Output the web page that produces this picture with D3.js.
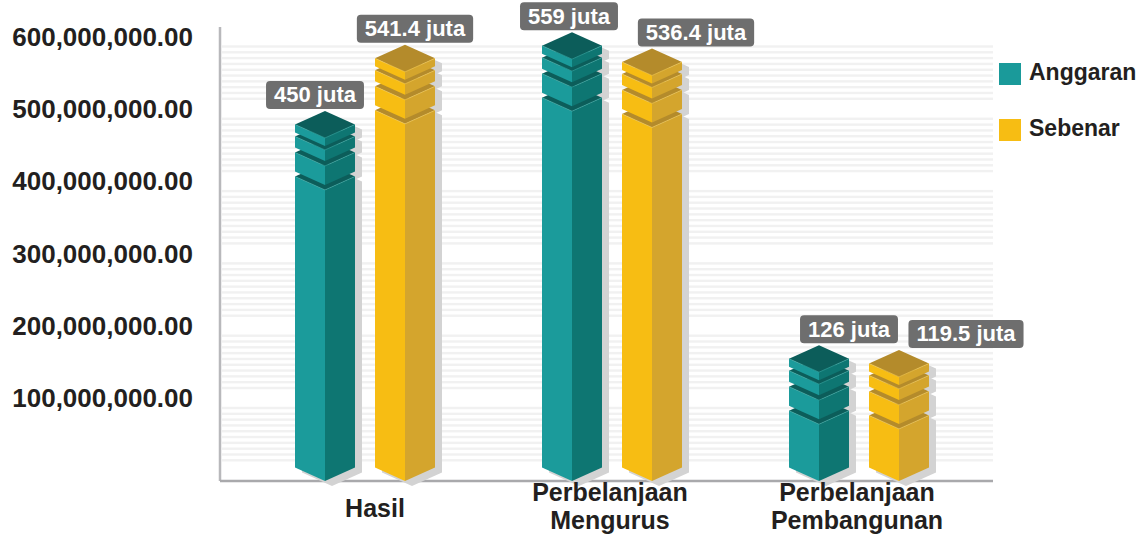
<!DOCTYPE html>
<html>
<head>
<meta charset="utf-8">
<title>Anggaran vs Sebenar</title>
<script src="https://cdn.jsdelivr.net/npm/d3@7/dist/d3.min.js"></script>
<style>
    body { margin: 0; background: #fff; }
    svg text { font-family: "Liberation Sans", Arial, sans-serif; font-weight: bold; }
</style>
</head>
<body>
<div id="chart"></div>
<script>
    // data
    const categories = ["Hasil", "Perbelanjaan Mengurus", "Perbelanjaan Pembangunan"];
    const seriesNames = ["Anggaran", "Sebenar"];
    const anggaran = [450e6, 559e6, 126e6];
    const sebenar = [541.4e6, 536.4e6, 119.5e6];
    const yTicks = [100e6, 200e6, 300e6, 400e6, 500e6, 600e6];

    // label nudges (annotation placement only)
    const labelDx = [[-10, 10], [-3, 44], [30, 67]];

    const width = 1145, height = 544;
    const baseY = 481, axisX = 220, plotRight = 993;
    const w = 30, d = 13.5;          // half width / half depth of the prisms

    const colors = {
        Anggaran: { left: "#1b9b9b", right: "#0e7672", top: "#0c5d5a", edge: "#3fb3ae", legend: "#1a9a9a" },
        Sebenar:  { left: "#f7bd13", right: "#d4a52d", top: "#b48b2b", edge: "#fbd25a", legend: "#f7bd13" }
    };

    const svg = d3.select("#chart").append("svg")
        .attr("width", width).attr("height", height);

    const y = d3.scaleLinear().domain([0, 600e6]).range([470.3, 36.5]);
    const x0 = d3.scaleBand().domain(categories).range([241.5, 982.5]);
    const x1 = d3.scalePoint().domain(seriesNames).range([-40, 40]);

    // striped background bands between ticks
    const bands = svg.append("g");
    const allTicks = [0].concat(yTicks);
    for (let i = 0; i < allTicks.length - 1; i++) {
        const yb = y(allTicks[i]) - 10, yt = y(allTicks[i + 1]) + 10;
        const n = 10;
        for (let k = 0; k < n; k++) {
            bands.append("rect")
                .attr("x", axisX + 2).attr("width", plotRight - axisX - 2)
                .attr("y", yt + k * (yb - yt) / (n - 1) - 1.2)
                .attr("height", 2.4)
                .attr("fill", "#f1f1f1");
        }
    }

    // axes lines
    svg.append("line").attr("x1", axisX).attr("x2", axisX).attr("y1", 27).attr("y2", baseY)
        .attr("stroke", "#b8b8bb").attr("stroke-width", 2.5);
    svg.append("line").attr("x1", axisX).attr("x2", plotRight).attr("y1", baseY).attr("y2", baseY)
        .attr("stroke", "#a9a9ac").attr("stroke-width", 2.5);

    // y tick labels
    svg.append("g").selectAll("text").data(yTicks).join("text")
        .attr("x", 193).attr("y", v => y(v))
        .attr("dy", "0.36em")
        .attr("text-anchor", "end")
        .attr("font-size", 26)
        .attr("fill", "#231f20")
        .text(d3.format(",.2f"));

    function prismPts(x, t, b) {
        return {
            left: [[x - w, t - d], [x, t], [x, b], [x - w, b - d]],
            right: [[x, t], [x + w, t - d], [x + w, b - d], [x, b]],
            top: [[x, t - 2 * d], [x + w, t - d], [x, t], [x - w, t - d]],
            outline: [[x, t - 2 * d], [x + w, t - d], [x + w, b - d], [x, b], [x - w, b - d], [x - w, t - d]]
        };
    }
    const pts = p => p.map(q => q.join(",")).join(" ");

    function segments(T) {
        return [
            [T + 52, baseY],
            [T + 28, T + 47],
            [T + 12, T + 23],
            [T, T + 8]
        ];
    }

    const data = categories.map((c, i) => ({
        cat: c, i,
        values: [{ s: "Anggaran", v: anggaran[i] }, { s: "Sebenar", v: sebenar[i] }]
    }));

    const shadowG = svg.append("g");
    const barG = svg.append("g");
    const labelG = svg.append("g");

    data.forEach(g => {
        g.values.forEach((e, j) => {
            const x = x0(g.cat) + x0.bandwidth() / 2 + x1(e.s);
            const T = y(e.v) - 7;
            const c = colors[e.s];
            const segs = segments(T);
            segs.forEach(([t, b]) => {
                const p = prismPts(x + 7, t + 5, b + 5);
                shadowG.append("polygon").attr("points", pts(p.outline)).attr("fill", "#d3d3d3");
            });
            segs.forEach(([t, b]) => {
                const p = prismPts(x, t, b);
                barG.append("polygon").attr("points", pts(p.left)).attr("fill", c.left);
                barG.append("polygon").attr("points", pts(p.right)).attr("fill", c.right);
                barG.append("polygon").attr("points", pts(p.top)).attr("fill", c.top);
                barG.append("polyline")
                    .attr("points", pts([[x - w, t - d], [x, t], [x + w, t - d]]))
                    .attr("fill", "none").attr("stroke", c.edge).attr("stroke-width", 0.8).attr("opacity", 0.7);
            });

            // value label
            const lx = x + labelDx[g.i][j];
            const boxBottom = T - 2 * d - 2;
            const lbl = labelG.append("g");
            const rect = lbl.append("rect").attr("fill", "#6e6e6e").attr("rx", 4);
            const txt = lbl.append("text")
                .attr("x", lx).attr("y", boxBottom - 6.5)
                .attr("text-anchor", "middle")
                .attr("font-size", 22)
                .attr("fill", "#fff")
                .text(+(e.v / 1e6).toFixed(1) + " juta");
            const tw = txt.node().getComputedTextLength();
            rect.attr("x", lx - tw / 2 - 8).attr("width", tw + 16)
                .attr("y", boxBottom - 28).attr("height", 28);
        });
    });

    // category labels
    svg.append("g").selectAll("text").data(categories).join("text")
        .attr("text-anchor", "middle")
        .attr("font-size", 25)
        .attr("fill", "#231f20")
        .each(function (c) {
            const lines = c.split(" ");
            const cx = x0(c) + x0.bandwidth() / 2;
            const t = d3.select(this);
            if (lines.length === 1) {
                t.append("tspan").attr("x", cx + 10).attr("y", 517).text(lines[0]);
            } else {
                lines.forEach((l, k) => t.append("tspan").attr("x", cx - 2).attr("y", 501 + k * 28).text(l));
            }
        });

    // legend
    const legend = svg.append("g").selectAll("g").data(seriesNames).join("g")
        .attr("transform", (s, i) => `translate(999,${63 + i * 56})`);
    legend.append("rect").attr("width", 22).attr("height", 22).attr("fill", s => colors[s].legend);
    legend.append("text").attr("x", 30).attr("y", 17).attr("font-size", 23).attr("fill", "#231f20").text(s => s);
</script>
</body>
</html>
